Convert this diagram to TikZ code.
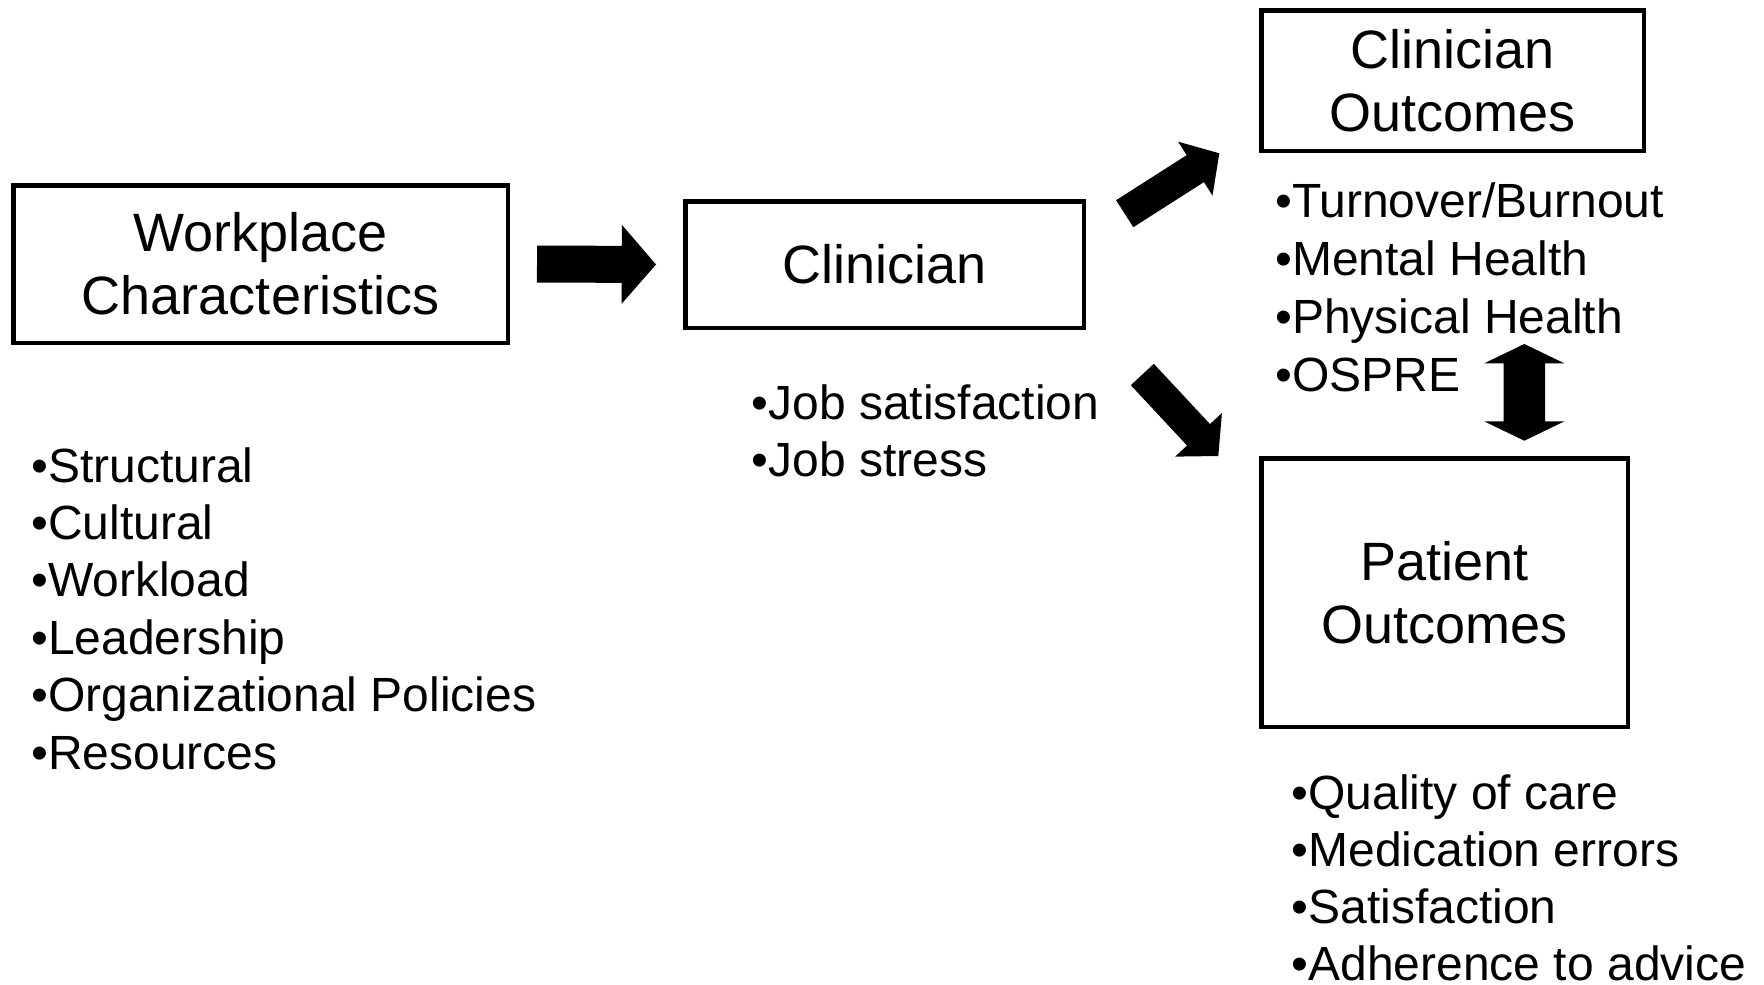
\documentclass[tikz,border=0pt]{standalone}
\usepackage{fontspec}
\setmainfont{Liberation Sans}
\usetikzlibrary{calc}
% block arrow: #1 tail, #2 tip, #3 half shaft, #4 half head, #5 head length
\newcommand\blockarr[5]{%
  \coordinate (#1-#2-b) at ($(#2)!#5!(#1)$);
  \fill ($(#1)!#3!90:(#2)$) -- ($(#1-#2-b)!#3!90:(#2)$) -- ($(#1-#2-b)!#4!90:(#2)$)
    -- (#2) -- ($(#1-#2-b)!#4!-90:(#2)$) -- ($(#1-#2-b)!#3!-90:(#2)$)
    -- ($(#1)!#3!-90:(#2)$) -- cycle;}
\begin{document}
\begin{tikzpicture}[x=1pt,y=-1pt,
  box/.style={draw, line width=4.5pt, rectangle, inner sep=0pt, align=center,
    font=\fontsize{54}{63}\selectfont},
  bul/.style={anchor=base west, inner sep=0pt, font=\fontsize{48}{57}\selectfont}]
\useasboundingbox (0,0) rectangle (1764,985);

% boxes
\node[box, minimum width=494.5pt, minimum height=157.5pt] (wp) at (260.5,264) {Workplace\\Characteristics};
\node[box, minimum width=398.5pt, minimum height=126.5pt] (cl) at (884.5,264.5) {Clinician};
\node[box, minimum width=382.5pt, minimum height=140.5pt] (co) at (1452.5,80.5) {Clinician\\Outcomes};
\node[box, minimum width=366.5pt, minimum height=268.5pt] (po) at (1444.5,592.5) {Patient\\Outcomes};

% bullet lists
\foreach \t [count=\i from 0] in {Structural,Cultural,Workload,Leadership,Organizational Policies,Resources}
  \node[bul] (w\i) at (31,482+57.4*\i) {•\t};
\foreach \t [count=\i from 0] in {Job satisfaction,Job stress}
  \node[bul] (j\i) at (751.5,419+57*\i) {•\t};
\foreach \t [count=\i from 0] in {Turnover/Burnout,Mental Health,Physical Health,OSPRE}
  \node[bul] (c\i) at (1275,217+58*\i) {•\t};
\foreach \t [count=\i from 0] in {Quality of care,Medication errors,Satisfaction,Adherence to advice}
  \node[bul] (p\i) at (1291.5,809+57*\i) {•\t};

% arrows
\coordinate (a1t) at ($(wp.east)+(27,0)$);
\coordinate (a1h) at ($(cl.west)+(-27,0)$);
\blockarr{a1t}{a1h}{18.5pt}{39.5pt}{34.3pt}

\coordinate (a2t) at (1124.7,213.7);
\coordinate (a2h) at (1219.3,153.3);
\blockarr{a2t}{a2h}{16pt}{32pt}{28.5pt}

\coordinate (a3t) at (1142.3,374.5);
\coordinate (a3h) at (1218.3,456);
\blockarr{a3t}{a3h}{15.7pt}{32pt}{29pt}

% double arrow
\coordinate (d1) at (1524.3,344);
\coordinate (d2) at (1524.3,440.7);
\fill (d1) -- ($(d1)+(40,19.3)$) -- ($(d1)+(20.8,19.3)$) -- ($(d2)+(20.8,-19.3)$)
  -- ($(d2)+(40,-19.3)$) -- (d2) -- ($(d2)+(-40,-19.3)$) -- ($(d2)+(-20.8,-19.3)$)
  -- ($(d1)+(-20.8,19.3)$) -- ($(d1)+(-40,19.3)$) -- cycle;
\end{tikzpicture}
\end{document}
